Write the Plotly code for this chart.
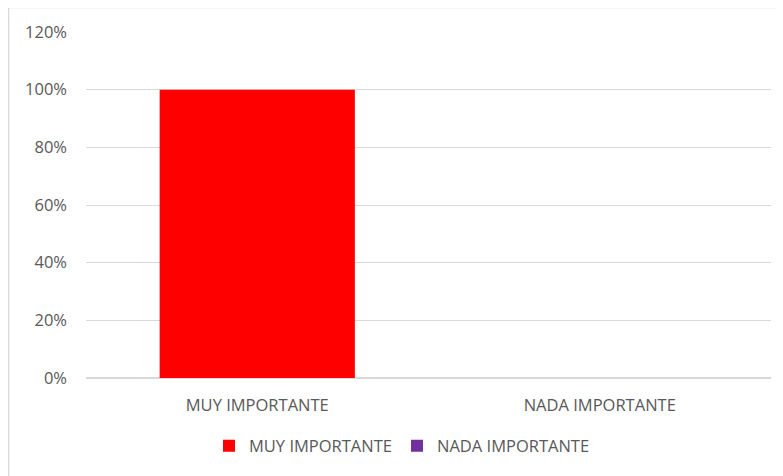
import plotly.graph_objects as go

categories = ["MUY IMPORTANTE", "NADA IMPORTANTE"]
values = [1.0, 0.0]
colors = ["#FF0000", "#7030A0"]
y_ticks = [0, 0.2, 0.4, 0.6, 0.8, 1.0, 1.2]

fig = go.Figure()
for cat, val, col in zip(categories, values, colors):
    fig.add_trace(go.Bar(x=[cat], y=[val], name=cat, marker=dict(color=col, line=dict(width=0))))

# page body has an 8px margin, so figure is offset by 8px
OFF = 8
W, H = 783 - OFF, 476 - OFF
L, R, T, B = 86 - OFF, W - (771 - OFF), 32 - OFF, H - (378 - OFF)
pw, ph = W - L - R, H - T - B

def px_x(p):
    return (p - OFF - L) / pw

def px_y(p):
    return (H - B - (p - OFF)) / ph

FS = 16.5
fig.update_layout(
    width=W, height=H,
    margin=dict(l=L, r=R, t=T, b=B),
    paper_bgcolor="white", plot_bgcolor="white",
    barmode="relative", bargap=0.43,
    font=dict(family="Open Sans", size=FS, color="#595959"),
    showlegend=True,
    legend=dict(orientation="h", x=px_x(402), xanchor="center", y=px_y(446), yanchor="middle",
                font=dict(size=FS, color="#595959"), itemwidth=30, traceorder="normal"),
    xaxis=dict(type="category", categoryorder="array", categoryarray=categories,
               showline=False, showgrid=False, ticks="", ticklabelstandoff=15,
               tickfont=dict(size=FS, color="#595959")),
    yaxis=dict(range=[0, 1.2], tickvals=y_ticks, tickformat=".0%", showgrid=True,
               gridcolor="#D9D9D9", gridwidth=1, zeroline=True, zerolinecolor="#D9D9D9",
               showline=False, ticks="", ticklabelstandoff=18,
               tickfont=dict(size=FS, color="#595959")),
    shapes=[dict(type="rect", xref="paper", yref="paper",
                 x0=px_x(8.5), x1=px_x(800), y0=px_y(500), y1=px_y(7.5),
                 line=dict(color="#D9D9D9", width=1.5), fillcolor="rgba(0,0,0,0)", layer="below")],
)

fig.write_html("out.html")
